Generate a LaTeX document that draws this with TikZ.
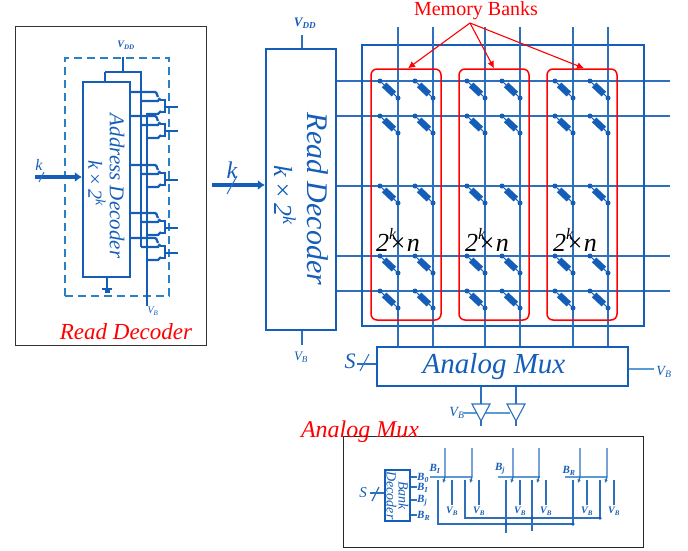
\documentclass[tikz,border=0pt]{standalone}
\usepackage{fontspec}
\setmainfont{Liberation Serif}
\usetikzlibrary{arrows.meta}
\definecolor{deepblue}{HTML}{145DB8}
\definecolor{wireblue}{HTML}{2F70BE}
\definecolor{paleblue}{HTML}{5B9BD5}
\definecolor{dashblue}{HTML}{2A80C4}
\newcommand{\vbus}{\textit{V\textsubscript{B}}}
\newcommand{\fsize}[1]{\fontsize{#1}{#1}\selectfont}

\begin{document}
\begin{tikzpicture}[x=1pt,y=-1pt,
  mbox/.style={draw=deepblue,line width=2.2pt,inner sep=0pt},
  bank/.style={draw=red,line width=1.5pt,rounded corners=6pt,minimum width=70pt,minimum height=251pt},
  mdot/.style={circle,fill=deepblue,inner sep=0pt,minimum size=5pt},
  wire/.style={draw=wireblue,line width=1.6pt},
  dwire/.style={draw=deepblue,line width=2.3pt},
  lbl/.style={text=deepblue,inner sep=0pt,font=\fsize{13}},
  rottxt/.style={rotate=-90,text=deepblue,inner sep=0pt},
  redlbl/.style={text=red,inner sep=0pt},
  buf/.style={draw=wireblue,line width=1.1pt},
  tinyw/.style={draw=wireblue,line width=1.3pt}]
  \useasboundingbox (0,0) rectangle (688,550);

  % read decoder detail
  \node[draw=black!80,line width=1pt,minimum width=191pt,minimum height=319pt,inner sep=0pt] (RD) at (110.5,185.5) {};
  \node[draw=dashblue,dash pattern=on 8pt off 5pt,line width=1.4pt,minimum width=104pt,minimum height=238pt,inner sep=0pt] (DA) at (117,177) {};
  \node[mbox,minimum width=47pt,minimum height=195pt] (AD) at (106.5,179.5) {};
  \node[rottxt,font=\itshape\fsize{21}] (ADT) at (117,186) {Address Decoder};
  \node[rottxt,font=\itshape\fsize{20}] (ADK) at (97,183) {k\,×\,2\textsuperscript{k}};
  \coordinate (Pa) at (123,72);
  \coordinate (Pb) at (105,72);
  \coordinate (Pc) at (141,72);
  \coordinate (Pd) at (141,247);
  \coordinate (Pe) at (147,113);
  \coordinate (Pf) at (147,306);
  \coordinate (Pg) at (123,57);
  \node[lbl,font=\itshape\bfseries\fsize{10}] (VDa) at (126,45) {V\textsubscript{DD}};
  \node[lbl,font=\fsize{10}] (VBa) at (153,311) {\vbus};
  \draw[dwire] (Pg) -- (Pa);
  \draw[dwire] (Pb) -- (Pc) -- (Pd);
  \draw[dwire] (Pb) -- (Pb |- AD.north);
  \draw[dwire] (Pe) -- (Pf);
  \coordinate (Ga) at (107,277);
  \coordinate (Gb) at (107,289);
  \draw[dwire] (Ga) -- (Gb);
  \draw[dwire] (102,289) -- (112,289);
  \draw[dwire] (104.5,291.5) -- (109.5,291.5);
  \foreach \y in {92,116,165,213,238} {
    \draw[dwire,rounded corners=1pt] (130,\y) -- (156,\y) -- (158,\y+5);
    \draw[dwire] (141,\y+9) -- (158,\y+9) -- (160,\y+6);
    \draw[dwire] (147,\y+22) -- (158,\y+22) -- (161,\y+19);
    \draw[dwire] (160,\y+8) -- (165,\y+8) -- (165,\y+20) -- (160,\y+20);
    \draw[dwire] (165,\y+15) -- (178,\y+15);
  }
  \coordinate (Kin) at (35,177);
  \draw[dwire,line width=3.6pt,-{Latex[length=7pt,width=10pt]}] (Kin) -- (AD.west |- Kin);
  \draw[wire,line width=1pt] (39,182) -- (44,172);
  \node[lbl,font=\itshape\fsize{16}] (Ka) at (39,165) {k};
  \node[redlbl,font=\itshape\fsize{23}] (RDT) at (126,332) {Read Decoder};

  % word and bit lines
  \foreach \wy in {81,116,186,256,291}
    \draw[wire] (336,\wy) -- (670,\wy);
  \node[mbox,minimum width=282pt,minimum height=281pt] (AR) at (503,185.5) {};
  \node[mbox,minimum width=251pt,minimum height=39pt] (MX) at (502.5,366.5) {};
  \foreach \bx in {398,433,485,520,573,608} {
    \coordinate (Bt) at (\bx,27);
    \draw[wire] (Bt) -- (Bt |- MX.north);
    \foreach \wy in {81,116,186,256,291} {
      \node[mdot] (Ma) at (\bx-18,\wy) {};
      \node[mdot] (Mb) at (\bx,\wy+17) {};
      \draw[draw=deepblue,line width=1pt] (Ma) -- (Mb);
      \draw[draw=deepblue,line width=6.5pt,shorten <=3pt,shorten >=3pt] (Ma) -- (Mb);
    }
  }
  \node[bank] (BKa) at (406,194.5) {};
  \node[bank] (BKb) at (494,194.5) {};
  \node[bank] (BKc) at (582,194.5) {};
  \foreach \bx in {398,487,575}
    \node[text=black,inner sep=0pt,font=\itshape\fsize{26}] (Cn) at (\bx,240) {2\rlap{\raisebox{12pt}{\fsize{16}k}}×n};
  \node[redlbl,font=\fsize{20}] (MB) at (476,11) {Memory Banks};
  \coordinate (Ms) at (470,23);
  \draw[draw=red,line width=1.1pt,-{Latex[length=7pt,width=7pt]}] (Ms) -- ([xshift=2pt]BKa.north);
  \draw[draw=red,line width=1.1pt,-{Latex[length=7pt,width=7pt]}] (Ms) -- (BKb.north);
  \draw[draw=red,line width=1.1pt,-{Latex[length=7pt,width=7pt]}] (Ms) -- ([xshift=2pt]BKc.north);

  % read decoder
  \node[mbox,minimum width=70pt,minimum height=281pt] (DC) at (301,189.5) {};
  \node[rottxt,font=\itshape\fsize{30}] (DCT) at (318,199) {Read Decoder};
  \node[rottxt,font=\itshape\fsize{26}] (DCK) at (285,195) {k\,×\,2\textsuperscript{k}};
  \coordinate (Ta) at (302,35);
  \coordinate (Tb) at (302,345);
  \draw[wire] (Ta) -- (Ta |- DC.north);
  \draw[wire] (Tb) -- (Tb |- DC.south);
  \node[lbl,font=\itshape\bfseries\fsize{13}] (VDb) at (305,23) {V\textsubscript{DD}};
  \node[lbl] (VBb) at (301,357) {\vbus};
  \coordinate (Kb) at (212,185);
  \draw[dwire,line width=3.6pt,-{Latex[length=7pt,width=10pt]}] (Kb) -- (DC.west |- Kb);
  \draw[wire,line width=1pt] (227,194) -- (237,176);
  \node[lbl,font=\itshape\fsize{24}] (Kc) at (232,170) {k};

  % analog mux
  \node[text=deepblue,font=\itshape\fsize{29},inner sep=0pt] (MXT) at (494,367) {Analog Mux};
  \node[lbl,font=\itshape\fsize{22}] (Sa) at (350,361) {S};
  \coordinate (Sb) at (357,364);
  \draw[wire] (Sb) -- (MX.west |- Sb);
  \draw[wire,line width=1pt] (360,371) -- (369,354);
  \coordinate (Vr) at (654,369);
  \draw[draw=paleblue,line width=1.5pt] (MX.east |- Vr) -- (Vr);
  \node[lbl,font=\fsize{14}] (VBc) at (664,372) {\vbus};
  \node[lbl,font=\fsize{14}] (VBd) at (457,413) {\vbus};
  \coordinate (Ba) at (464,413);
  \coordinate (Bb) at (510,413);
  \draw[draw=paleblue,line width=1.2pt] (Ba) -- (Bb);
  \foreach \bx in {481,516} {
    \coordinate (Bc) at (\bx,404);
    \coordinate (Bd) at (\bx,426);
    \draw[wire,line width=1.3pt] (Bc) -- (Bc |- MX.south);
    \draw[buf,fill=white] (\bx-9,404) -- (\bx+9,404) -- (\bx,421) -- cycle;
    \draw[buf] (\bx,421) -- (Bd);
  }

  % analog mux detail
  \node[draw=black!85,line width=1pt,minimum width=300pt,minimum height=111pt,inner sep=0pt] (AM) at (493,491.5) {};
  \node[redlbl,font=\itshape\fsize{24}] (AMT) at (360,432) {Analog Mux};
  \node[mbox,minimum width=25pt,minimum height=51pt] (BD) at (397.5,495.5) {};
  \node[rottxt,align=center,font=\itshape\fsize{14}] (BDT) at (397.5,495.5) {Bank\\[-2pt]Decoder};
  \node[lbl,font=\itshape\fsize{15}] (Sc) at (363,493) {S};
  \coordinate (Sd) at (370,493);
  \draw[tinyw] (Sd) -- (BD.west |- Sd);
  \draw[tinyw] (372,501) -- (379,487);
  \foreach \y/\t in {477/0,487/I,500/j,515/R} {
    \coordinate (Oa) at (417,\y);
    \draw[tinyw] (BD.east |- Oa) -- (Oa);
    \node[lbl,font=\itshape\bfseries\fsize{11},anchor=west] (Ob) at (417,\y+1) {B\textsubscript{\t}};
  }
  \node[lbl,font=\itshape\bfseries\fsize{11}] (Ra) at (435,469) {B\textsubscript{I}};
  \node[lbl,font=\itshape\bfseries\fsize{11}] (Rb) at (500,469) {B\textsubscript{j}};
  \node[lbl,font=\itshape\bfseries\fsize{11}] (Rc) at (569,471) {B\textsubscript{R}};
  \foreach \x in {445,513,580} {
    \coordinate (La) at (\x-15,477);
    \coordinate (Lb) at (\x+27,477);
    \draw[draw=paleblue,line width=1.4pt] (La) -- (Lb);
  }
  \foreach \x/\ll in {445/438,472/465,513/506,539/532,580/573,607/600} {
    \coordinate (Sw) at (\x,477);
    \coordinate (Swt) at (\x,448);
    \coordinate (Vt) at (\ll+14,480);
    \coordinate (Vb) at (\ll+14,505);
    \draw[tinyw,-{Latex[length=3.5pt,width=3.5pt]}] (Swt) -- (Sw) -- (\x-2,483);
    \draw[tinyw] (Vt) -- (Vb);
    \node[lbl,font=\itshape\bfseries\fsize{10}] (Vl) at (\ll+14,511) {V\textsubscript{B}};
  }
  \coordinate (Ha) at (438,524);
  \coordinate (Hb) at (573,524);
  \coordinate (Hc) at (465,518);
  \coordinate (Hd) at (600,518);
  \coordinate (He) at (506,524);
  \coordinate (Hf) at (532,518);
  \draw[tinyw] (438,480) -- (Ha) -- (Hb) -- (573,480);
  \draw[tinyw] (465,480) -- (Hc) -- (Hd) -- (600,480);
  \draw[tinyw] (506,480) -- (506,533);
  \draw[tinyw] (532,480) -- (532,531);
  \foreach \p in {Hb,Hd,He,Hf}
    \node[mdot,minimum size=3.5pt] at (\p) {};
\end{tikzpicture}
\end{document}
